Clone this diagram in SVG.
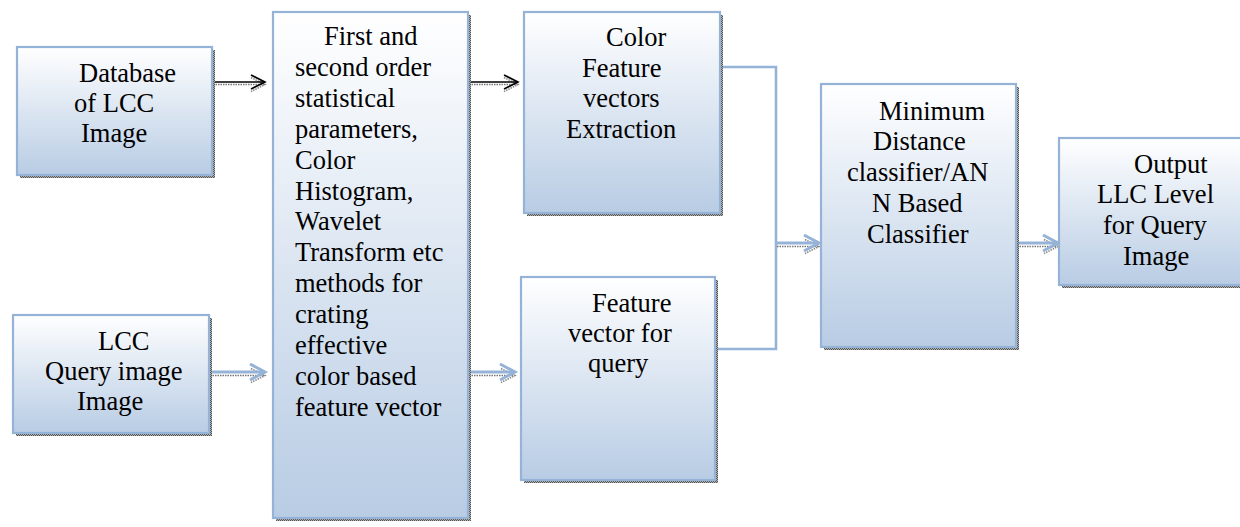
<svg xmlns="http://www.w3.org/2000/svg" width="1240" height="527" viewBox="0 0 1240 527">
<defs>
<linearGradient id="g" x1="0" y1="0" x2="0" y2="1">
<stop offset="0" stop-color="#ffffff"/>
<stop offset="1" stop-color="#b8cce4"/>
</linearGradient>
<pattern id="dots" width="2" height="2" patternUnits="userSpaceOnUse">
<rect width="2" height="2" fill="#b0b0b0"/>
<rect width="1" height="1" fill="#555"/>
<rect x="1" y="1" width="1" height="1" fill="#555"/>
</pattern>
<marker id="ab" markerUnits="userSpaceOnUse" markerWidth="20" markerHeight="20" refX="15" refY="8" orient="auto" overflow="visible">
<path d="M1,1 L15,8 L1,15" fill="none" stroke="#000" stroke-width="1.6"/>
</marker>
<marker id="abs" markerUnits="userSpaceOnUse" markerWidth="20" markerHeight="20" refX="15" refY="8" orient="auto" overflow="visible">
<path d="M1,1 L15,8 L1,15" fill="none" stroke="#888" stroke-width="1.6" stroke-dasharray="1.5 1"/>
</marker>
<marker id="bb" markerUnits="userSpaceOnUse" markerWidth="20" markerHeight="20" refX="16" refY="8" orient="auto" overflow="visible">
<path d="M1,0 L16,8 L1,16" fill="none" stroke="#95b3d7" stroke-width="3"/>
</marker>
</defs>
<style>
.sh{fill:url(#dots)}
.bx{fill:url(#g);stroke:#95b3d7;stroke-width:2.2}
.t{font-family:"Liberation Serif","DejaVu Serif","Noto Serif","Times New Roman",Times,serif;font-size:26.5px;fill:#000}
.ashadow{fill:none;stroke:#777;stroke-width:1.4;stroke-dasharray:1.5 1}
.ablack{fill:none;stroke:#000;stroke-width:1.6}
.ablue{fill:none;stroke:#95b3d7;stroke-width:3}
.conn{fill:none;stroke:#95b3d7;stroke-width:2.6}
</style>

<g id="connectors">
<path class="ashadow" d="M213,84.5 H265" marker-end="url(#abs)"/>
<path class="ablack" d="M213,82 H265" marker-end="url(#ab)"/>
<path class="ashadow" d="M469,84.5 H518" marker-end="url(#abs)"/>
<path class="ablack" d="M469,82 H518" marker-end="url(#ab)"/>
<path class="ashadow" d="M210,375.5 H265" marker-end="url(#abs)"/>
<path class="ablue" d="M210,372 H265" marker-end="url(#bb)"/>
<path class="ashadow" d="M469,375.5 H515" marker-end="url(#abs)"/>
<path class="ablue" d="M469,372 H515" marker-end="url(#bb)"/>
<path class="conn" d="M720,67 H776 V349 H715"/>
<path class="ashadow" d="M777,246.5 H819" marker-end="url(#abs)"/>
<path class="ablue" d="M777,243 H819" marker-end="url(#bb)"/>
<path class="ashadow" d="M1017,246.5 H1058" marker-end="url(#abs)"/>
<path class="ablue" d="M1017,243 H1058" marker-end="url(#bb)"/>
</g>

<g id="node-database">
<rect class="sh" x="20" y="50" width="195" height="128"/>
<rect class="bx" x="17" y="47" width="195" height="128"/>
<text class="t"><tspan x="79" y="82">Database</tspan><tspan x="74" y="112">of LCC</tspan><tspan x="81" y="142">Image</tspan></text>
</g>

<g id="node-query">
<rect class="sh" x="16" y="318" width="196" height="118"/>
<rect class="bx" x="13" y="315" width="196" height="118"/>
<text class="t"><tspan x="98" y="350">LCC</tspan><tspan x="45" y="380">Query image</tspan><tspan x="77" y="410">Image</tspan></text>
</g>

<g id="node-methods">
<rect class="sh" x="276" y="15" width="195" height="506"/>
<rect class="bx" x="273" y="12" width="195" height="506"/>
<text class="t">
<tspan x="324" y="45">First and</tspan>
<tspan x="295" y="76">second order</tspan>
<tspan x="295" y="107">statistical</tspan>
<tspan x="295" y="138">parameters,</tspan>
<tspan x="295" y="169">Color</tspan>
<tspan x="295" y="200">Histogram,</tspan>
<tspan x="295" y="230">Wavelet</tspan>
<tspan x="295" y="261">Transform etc</tspan>
<tspan x="295" y="292">methods for</tspan>
<tspan x="295" y="323">crating</tspan>
<tspan x="295" y="354">effective</tspan>
<tspan x="295" y="385">color based</tspan>
<tspan x="295" y="416">feature vector</tspan>
</text>
</g>

<g id="node-color-feature">
<rect class="sh" x="527" y="15" width="196" height="201"/>
<rect class="bx" x="524" y="12" width="196" height="201"/>
<text class="t"><tspan x="606" y="46">Color</tspan><tspan x="582" y="77">Feature</tspan><tspan x="583" y="107">vectors</tspan><tspan x="566" y="138">Extraction</tspan></text>
</g>

<g id="node-query-vector">
<rect class="sh" x="524" y="280" width="194" height="203"/>
<rect class="bx" x="521" y="277" width="194" height="203"/>
<text class="t"><tspan x="592" y="312">Feature</tspan><tspan x="568" y="342">vector for</tspan><tspan x="588" y="372">query</tspan></text>
</g>

<g id="node-classifier">
<rect class="sh" x="824" y="87" width="195" height="263"/>
<rect class="bx" x="821" y="84" width="195" height="263"/>
<text class="t"><tspan x="879" y="120">Minimum</tspan><tspan x="873" y="150">Distance</tspan><tspan x="847" y="181">classifier/AN</tspan><tspan x="872" y="212">N Based</tspan><tspan x="867" y="243">Classifier</tspan></text>
</g>

<g id="node-output">
<rect class="sh" x="1062" y="141" width="200" height="147"/>
<rect class="bx" x="1059" y="138" width="200" height="147"/>
<text class="t"><tspan x="1134" y="173">Output</tspan><tspan x="1097" y="203">LLC Level</tspan><tspan x="1103" y="234">for Query</tspan><tspan x="1123" y="265">Image</tspan></text>
</g>
</svg>
